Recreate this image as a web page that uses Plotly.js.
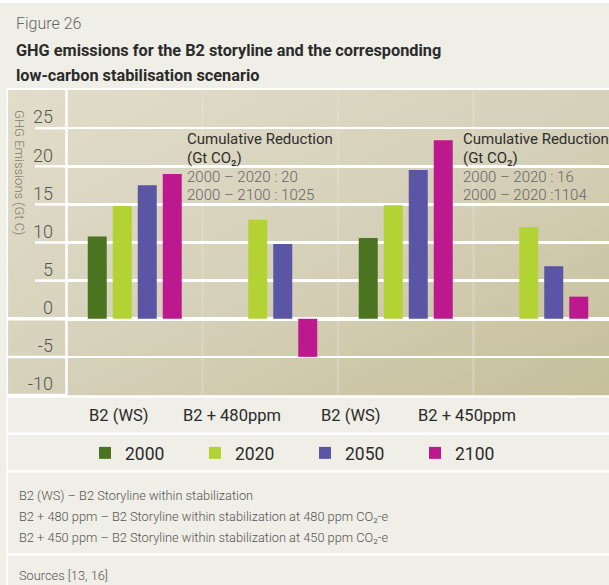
<!DOCTYPE html>
<html><head><meta charset="utf-8">
<script src="https://cdn.plot.ly/plotly-3.0.1.min.js"></script>
<style>html,body{margin:0;padding:0;background:#efeee7;} #chart{width:609px;height:585px;}</style>
</head><body><div id="chart"></div>
<script>
// ---- data ----
const categories = ['B2 (WS)', 'B2 + 480ppm', 'B2 (WS)', 'B2 + 450ppm'];
const years = ['2000', '2020', '2050', '2100'];
const v2000 = [10.8, null, 10.6, null];
const v2020 = [14.8, 13.0, 14.9, 12.0];
const v2050 = [17.5, 9.8, 19.5, 6.9];
const v2100 = [19.0, -5.0, 23.4, 2.9];
const yTicks = [-10, -5, 0, 5, 10, 15, 20, 25];
const yTickText = ['-10', '-5', '0', '5', '10', '15', '20', '25'];
const yRange = [-10, 30];
const reduction1 = ['Cumulative Reduction', '(Gt CO₂)', '2000 – 2020 : 20', '2000 – 2100 : 1025'];
const reduction2 = ['Cumulative Reduction', '(Gt CO₂)', '2000 – 2020 : 16', '2000 – 2020 :1104'];
const notes = [
  'B2 (WS) – B2 Storyline within stabilization',
  'B2 + 480 ppm – B2 Storyline within stabilization at 480 ppm CO₂-e',
  'B2 + 450 ppm – B2 Storyline within stabilization at 450 ppm CO₂-e'
];
const sources = 'Sources [13, 16]';
const figLabel = 'Figure 26';
const titleLines = ['GHG emissions for the B2 storyline and the corresponding', 'low-carbon stabilisation scenario'];
const yTitle = 'GHG Emissions (Gt C)';

// ---- styling ----
const colors = ['#4b7421', '#b3d334', '#5a55a4', '#bc198e'];
const W = 609, H = 585, L = 67, R = 0, T = 90, B = 190;
const PW = W - L - R, PH = H - T - B;
const px = x => (x - L) / PW;
const py = y => (T + PH - y) / PH;
const FONT = 'Roboto, "Open Sans", sans-serif';
const NARROW = '"Liberation Sans Narrow", Roboto, sans-serif';
const xIdx = categories.map((_, i) => i);

const series = [v2000, v2020, v2050, v2100];
const traces = series.map((vals, i) => ({
  type: 'bar', name: years[i], x: xIdx, y: vals,
  marker: {color: colors[i], line: {width: 0}},
  hoverinfo: 'skip'
}));

const ann = [];
function txt(text, x, y, o) {
  ann.push(Object.assign({text, x: px(x), y: py(y), xref: 'paper', yref: 'paper',
    showarrow: false, xanchor: 'left', yanchor: 'middle',
    font: {family: FONT, size: 15, color: '#333'}}, o || {}));
}
txt(figLabel, 14, 23, {font: {family: FONT, size: 16, color: '#666', weight: 300}});
txt(titleLines[0], 14, 50, {font: {family: NARROW, size: 16.3, color: '#2b2b2b', weight: 700}});
txt(titleLines[1], 14, 76, {font: {family: NARROW, size: 16.3, color: '#2b2b2b', weight: 700}});
txt(yTitle, 20, 172, {xanchor: 'center', textangle: 90, font: {family: FONT, size: 13, color: '#7a7a72', weight: 300}});
[[reduction1, 185], [reduction2, 461]].forEach(([lines, x0]) => {
  const ys = [139, 158, 176.5, 194.5];
  lines.forEach((t, k) => txt(t, x0, ys[k], {font: {family: FONT, size: 15, color: k < 2 ? '#2e2e2e' : '#666',
    weight: k < 2 ? 400 : 300}}));
});
const catX = [119, 232, 351, 467];
categories.forEach((c, i) => txt(c, catX[i], 415.5, {xanchor: 'center', font: {family: FONT, size: 16.5, color: '#2b2b2b'}}));
notes.forEach((n, i) => txt(n, 17, [495, 516.5, 537.5][i], {font: {family: NARROW, size: 12.8, color: '#555', weight: 300}}));
txt(sources, 17, 575, {font: {family: NARROW, size: 12.8, color: '#555', weight: 300}});

// ---- shapes: panel lines ----
const shapes = [];
function hline(y, x0, x1, w, c, layer) {
  shapes.push({type: 'line', xref: 'paper', yref: 'paper', x0: px(x0), x1: px(x1), y0: py(y), y1: py(y),
    line: {color: c || '#fff', width: w}, layer: layer || 'above'});
}
function vline(x, y0, y1, w, c, layer) {
  shapes.push({type: 'line', xref: 'paper', yref: 'paper', x0: px(x), x1: px(x), y0: py(y0), y1: py(y1),
    line: {color: c || '#fff', width: w}, layer: layer || 'above'});
}
// extend the white gridlines into the y-axis strip
const yFrac = v => (v - yRange[0]) / (yRange[1] - yRange[0]);
yTicks.forEach(v => {
  shapes.push({type: 'line', xref: 'paper', yref: 'paper', x0: px(v > 0 ? 35 : 8), x1: 0, y0: yFrac(v), y1: yFrac(v),
    line: {color: '#ffffff', width: v === 0 ? 3.5 : 2.5}, layer: 'above'});
});
// category separators (faint)
[0.5, 1.5, 2.5].forEach(x => shapes.push({type: 'line', xref: 'x', yref: 'paper', x0: x, x1: x, y0: 0, y1: 1,
  line: {color: '#ebe8da', width: 2.5}, opacity: 0.3, layer: 'below'}));
vline(66.5, 89, 396, 2.5);
vline(7.3, 89, 585, 1.5);
hline(89, 7, 609, 2);
hline(396.5, 7, 609, 2.5);
hline(433.8, 7, 609, 2.5);
hline(471.2, 7, 609, 2.5);
hline(554.5, 7, 609, 2.5);
hline(1.5, 0, 609, 3);

const grad = "<svg xmlns='http://www.w3.org/2000/svg' width='600' height='306' preserveAspectRatio='none'>" +
  "<defs><linearGradient id='g' x1='0' y1='0' x2='1' y2='1'>" +
  "<stop offset='0' stop-color='#e1ddca'/><stop offset='0.5' stop-color='#d6d1ba'/><stop offset='1' stop-color='#c6bf9b'/>" +
  "</linearGradient></defs><rect width='600' height='306' fill='url(#g)'/></svg>";

const layout = {
  width: W, height: H,
  margin: {l: L, r: R, t: T, b: B, pad: 0},
  paper_bgcolor: '#efeee7', plot_bgcolor: 'rgba(0,0,0,0)',
  barmode: 'group', bargap: 0.262, bargroupgap: 0.24,
  font: {family: FONT, color: '#333'},
  xaxis: {type: 'linear', range: [-0.5, 3.5], showticklabels: false, showgrid: false, zeroline: false,
    showline: false, ticks: '', fixedrange: true},
  yaxis: {range: yRange, tickmode: 'array', tickvals: yTicks, ticktext: yTickText,
    showgrid: true, gridcolor: '#ffffff', gridwidth: 2.5,
    zeroline: true, zerolinecolor: '#ffffff', zerolinewidth: 3.5,
    showline: false, ticks: '',
    ticklabelshift: -11, ticklabelstandoff: 13,
    tickfont: {family: FONT, size: 18, color: '#555', weight: 300}, fixedrange: true},
  showlegend: true,
  legend: {orientation: 'h', x: px(85), y: py(435), xanchor: 'left', yanchor: 'top',
    entrywidth: 65, entrywidthmode: 'pixels', bgcolor: 'rgba(0,0,0,0)',
    font: {family: FONT, size: 17.5, color: '#2b2b2b'}, traceorder: 'normal'},
  annotations: ann,
  shapes: shapes,
  images: [{source: 'data:image/svg+xml;charset=utf-8,' + encodeURIComponent(grad),
    xref: 'paper', yref: 'paper', x: px(8), y: py(90), sizex: (609 - 8) / PW, sizey: 306 / PH,
    xanchor: 'left', yanchor: 'top', sizing: 'stretch', layer: 'below'}]
};

Plotly.newPlot('chart', traces, layout, {displayModeBar: false, staticPlot: true});
</script>
</body></html>
